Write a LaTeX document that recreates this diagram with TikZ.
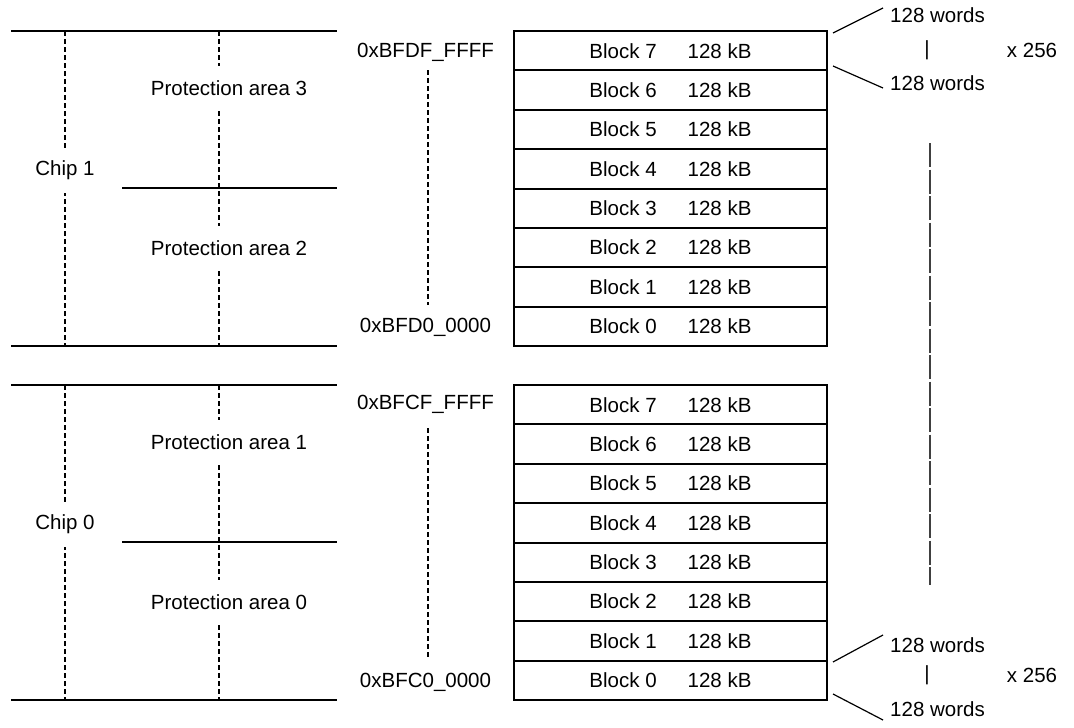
\documentclass[tikz,border=0pt]{standalone}
\usepackage{fontspec}
\setmainfont{Liberation Sans}
\begin{document}
\begin{tikzpicture}[x=1pt,y=-1pt,
  font=\fontsize{20.5}{24}\selectfont,
  rule/.style={line width=2pt},
  guide/.style={line width=1.2pt, dash pattern=on 5pt off 3pt},
  span/.style={line width=1.5pt, draw=black!75, dash pattern=on 24pt off 2.5pt},
  area/.style={fill=white, inner xsep=2pt, inner ysep=0pt, minimum height=45pt},
  addr/.style={inner sep=0pt},
  txt/.style={inner sep=0pt},
  blockbox/.style={draw, line width=2pt, minimum width=313pt, minimum height=39.375pt, inner sep=0pt}]
\useasboundingbox (0,0) rectangle (1074,728);

% ---- chip / protection area columns (upper: chip 1, lower: chip 0) ----
\foreach \off/\chip/\pa/\pb in {0/1/3/2, 354/0/1/0} {
  \coordinate (tl\chip) at (11,{31+\off});
  \coordinate (tr\chip) at (337,{31+\off});
  \coordinate (ml\chip) at (122,{188+\off});
  \coordinate (mr\chip) at (337,{188+\off});
  \coordinate (bl\chip) at (11,{346+\off});
  \coordinate (br\chip) at (337,{346+\off});
  \coordinate (ct\chip) at (65,{31+\off});
  \coordinate (cb\chip) at (65,{346+\off});
  \coordinate (pt\chip) at (219,{31+\off});
  \coordinate (pb\chip) at (219,{346+\off});
  \draw[rule] (tl\chip) -- (tr\chip);
  \draw[rule] (ml\chip) -- (mr\chip);
  \draw[rule] (bl\chip) -- (br\chip);
  \draw[guide] (ct\chip) -- (cb\chip);
  \draw[guide] (pt\chip) -- (pb\chip);
  \node[area] (chip\chip) at (65,{170+\off}) {Chip \chip};
  \node[area] (pa\pa) at (229,{88+\off}) {Protection area \pa};
  \node[area] (pa\pb) at (229,{248+\off}) {Protection area \pb};
}

% ---- address ranges ----
\node[addr] (hiTop) at (425.5,52) {0xBFDF\_FFFF};
\node[addr] (hiBot) at (425.5,327) {0xBFD0\_0000};
\node[addr] (loTop) at (425.5,404) {0xBFCF\_FFFF};
\node[addr] (loBot) at (425.5,682) {0xBFC0\_0000};
\coordinate (hiA) at (428,70);
\coordinate (hiB) at (428,305);
\coordinate (loA) at (428,428);
\coordinate (loB) at (428,658);
\draw[guide] (hiA) -- (hiB);
\draw[guide] (loA) -- (loB);

% ---- flash blocks ----
\foreach \i in {0,...,7} {
  \node[blockbox] (hi\i) at (670.5,{31+(7.5-\i)*39.375}) {Block \i\hspace{31pt}128 kB};
  \node[blockbox] (lo\i) at (670.5,{385+(7.5-\i)*39.375}) {Block \i\hspace{31pt}128 kB};
}

% ---- block expansion: 128 words x 256 ----
\node[txt, anchor=west] (wA1) at (890,15) {128 words};
\node[txt, anchor=west] (wA2) at (890,83) {128 words};
\node[txt] (barA) at (927,50) {|};
\node[txt] (xA) at (1032,50) {x 256};
\coordinate (eA1) at (833,33);
\coordinate (eA2) at (833,66);
\coordinate (fA1) at (883,8);
\coordinate (fA2) at (883,88);
\draw[line width=1.2pt] (eA1) -- (fA1);
\draw[line width=1.2pt] (eA2) -- (fA2);

\node[txt, anchor=west] (wB1) at (890,645) {128 words};
\node[txt, anchor=west] (wB2) at (890,709) {128 words};
\node[txt] (barB) at (927,675) {|};
\node[txt] (xB) at (1032,675) {x 256};
\coordinate (eB1) at (833,662);
\coordinate (eB2) at (833,694);
\coordinate (fB1) at (883,635);
\coordinate (fB2) at (883,720);
\draw[line width=1.2pt] (eB1) -- (fB1);
\draw[line width=1.2pt] (eB2) -- (fB2);

% ---- long span between the two expansions ----
\coordinate (sA) at (930,143);
\coordinate (sB) at (930,585);
\draw[span] (sA) -- (sB);
\end{tikzpicture}
\end{document}
